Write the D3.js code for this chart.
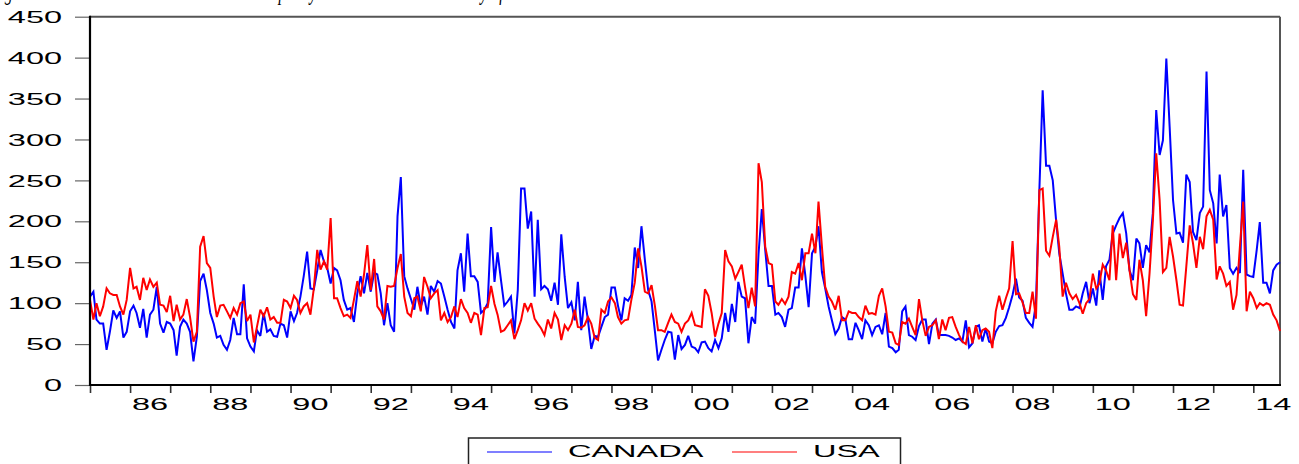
<!DOCTYPE html>
<html><head><meta charset="utf-8">
<script src="https://cdn.jsdelivr.net/npm/d3@7"></script>
<style>body{margin:0;background:#fff}svg{display:block}</style>
</head><body><svg id="c" width="1299" height="464"></svg>
<script>
const startYear = 1985, startMonth = 1;
const canada = [
108,114,80,75,75,43,65,91,82,90,58,65,
90,97,88,70,93,58,86,92,120,75,64,77,
75,67,36,71,80,75,65,29,59,127,136,116,
88,75,58,60,49,43,55,82,62,62,123,57,
47,41,67,60,88,65,68,60,59,75,73,58,
90,78,88,108,133,163,118,117,140,165,151,143,
124,143,140,128,104,92,94,77,112,133,112,137,
114,137,135,112,73,100,73,65,206,254,133,118,
105,92,120,96,108,86,121,114,127,124,108,92,
77,69,140,161,114,185,133,133,126,88,92,100,
193,126,162,128,97,102,108,63,116,240,240,191,
212,108,202,117,121,117,103,125,98,184,132,94,
101,79,126,67,108,79,44,60,59,71,83,86,
119,119,97,79,106,103,110,168,143,194,153,116,
102,65,30,43,55,65,64,31,61,44,49,60,
47,45,40,52,53,45,41,55,45,57,88,65,
99,77,126,108,106,51,83,75,160,215,165,121,
121,86,88,83,71,92,94,119,119,167,134,95,
161,169,194,138,118,96,79,62,69,83,80,56,
56,76,67,56,79,73,61,71,73,62,88,47,
45,40,43,90,96,61,59,55,72,80,80,50,
75,80,61,61,61,60,58,55,57,53,79,46,
51,71,73,53,69,53,51,65,72,73,82,95,
110,130,107,103,82,76,71,100,238,360,268,268,
250,200,161,136,112,92,92,96,94,112,126,100,
118,97,140,104,145,153,185,195,204,210,185,140,
128,179,173,143,171,162,210,336,281,299,399,316,
226,185,186,174,257,248,187,177,210,218,383,238,
222,173,257,206,220,143,136,143,137,263,135,133,
132,165,199,125,125,112,140,147,150];
const usa = [
104,80,100,84,96,118,112,110,110,96,86,104,
143,118,120,104,131,116,129,120,125,98,97,89,
109,78,98,80,86,105,83,53,65,169,182,149,
143,108,83,97,98,90,82,94,86,100,102,78,
86,52,71,92,84,95,80,83,76,76,104,102,
94,109,104,88,96,100,86,118,165,141,151,141,
204,106,106,94,84,86,82,104,127,108,135,171,
116,154,96,90,80,121,120,121,143,160,108,88,
84,106,108,90,132,120,106,112,116,79,88,77,
83,96,83,105,94,88,76,88,86,61,94,95,
121,99,86,65,67,73,79,56,67,79,100,91,
100,81,75,69,61,80,69,88,80,55,73,67,
75,92,71,70,73,83,75,58,55,92,88,102,
107,100,83,75,79,80,104,125,167,145,114,112,
122,96,67,67,65,76,86,77,75,65,75,79,
88,73,72,71,117,109,88,59,75,88,165,151,
145,130,138,147,120,94,119,96,271,248,169,149,
147,102,98,105,99,108,138,136,149,128,161,161,
185,161,224,169,120,108,102,92,109,79,79,90,
88,88,83,79,97,87,88,86,109,118,96,65,
64,51,49,77,75,81,71,61,105,79,60,71,
73,79,56,80,67,82,83,71,61,53,50,71,
51,73,56,67,69,65,45,90,109,92,106,118,
176,111,112,101,88,88,114,81,238,240,164,158,
181,202,169,108,125,112,105,110,100,87,100,105,
136,118,124,147,140,128,195,128,185,155,174,140,
111,104,153,128,84,136,200,283,226,138,143,181,
157,128,98,97,145,195,173,143,181,166,206,214,
202,129,145,136,121,126,92,110,169,224,90,114,
106,94,100,97,100,98,86,79,66];
const yTicks = [0,50,100,150,200,250,300,350,400,450];
const xLabels = ["86","88","90","92","94","96","98","00","02","04","06","08","10","12","14"];
const seriesNames = ["CANADA","USA"];
const seriesColors = ["#0000ff","#ff0000"];
const titleText = "Figure 1: Trends in the news-based economic policy-related market uncertainty of Canada and the USA";

const svg = d3.select("#c");
const L = 90, R = 1280, T = 16.7, B = 385;
const SX = 2.03; // horizontal stretch of the exported fonts
const font = "'Liberation Sans', Arial, sans-serif";

const dates = canada.map((d, i) => new Date(startYear, startMonth - 1 + i, 1));
const x = d3.scaleTime().domain([dates[0], dates[dates.length - 1]]).range([L, R]);
const y = d3.scaleLinear().domain([0, 450]).range([B, T]);

// title: as in the reference, it sits above the picture's top edge and only its descenders show
svg.append("text").attr("transform", "translate(-9,0.3) scale(1,1.6)")
  .attr("font-family", "'Liberation Serif', 'Times New Roman', serif")
  .attr("font-style", "italic").attr("font-size", 15.6).attr("fill", "#000")
  .text(titleText);

// y axis ticks + labels
const yAxis = d3.axisLeft(y).tickValues(yTicks).tickSize(14).tickPadding(0).tickSizeOuter(0);
const gy = svg.append("g").attr("transform", `translate(${L - 1},0)`).call(yAxis);
gy.select(".domain").remove();
gy.selectAll(".tick line").attr("stroke", "#666").attr("stroke-width", 1.2);
gy.selectAll(".tick text")
  .attr("x", 0).attr("dy", null).attr("dominant-baseline", "central")
  .attr("transform", `translate(-27,0) scale(${SX},1)`)
  .attr("text-anchor", "end").attr("font-family", font).attr("font-size", 16).attr("fill", "#000");

// x axis: yearly ticks, labels every two years centred in the year
const yearTicks = d3.timeYear.range(new Date(startYear, 0, 1), new Date(2014, 1, 1));
const xAxis = d3.axisBottom(x).tickValues(yearTicks).tickSize(7).tickFormat("").tickSizeOuter(0);
const gx = svg.append("g").attr("transform", `translate(0,${B + 1})`).call(xAxis);
gx.select(".domain").remove();
gx.selectAll(".tick line").attr("stroke", "#333").attr("stroke-width", 1.6);

svg.append("g").selectAll("text").data(xLabels).join("text")
  .attr("transform", d => {
    const yr = +d < 50 ? 2000 + +d : 1900 + +d;
    return `translate(${x(new Date(yr, 6, 1))},410) scale(${SX},1)`;
  })
  .attr("text-anchor", "middle").attr("font-family", font).attr("font-size", 16).attr("fill", "#000")
  .text(d => d);

// frame
svg.append("line").attr("x1", L).attr("x2", R).attr("y1", T).attr("y2", T).attr("stroke", "#555").attr("stroke-width", 2);
svg.append("line").attr("x1", R).attr("x2", R).attr("y1", T).attr("y2", B).attr("stroke", "#555").attr("stroke-width", 2);

// series
const line = d3.line().x((d, i) => x(dates[i])).y(d => y(d));
[canada, usa].forEach((s, k) => {
  svg.append("path").datum(s).attr("d", line).attr("fill", "none")
    .attr("stroke", seriesColors[k]).attr("stroke-width", 2).attr("stroke-linejoin", "miter").attr("stroke-miterlimit", 3);
});

// axes lines on top
svg.append("line").attr("x1", L).attr("x2", L).attr("y1", T - 1).attr("y2", B + 1).attr("stroke", "#000").attr("stroke-width", 2.2);
svg.append("line").attr("x1", L - 1).attr("x2", R + 1).attr("y1", B).attr("y2", B).attr("stroke", "#000").attr("stroke-width", 2.2);

// legend
const lg = svg.append("g");
lg.append("rect").attr("x", 468.5).attr("y", 438).attr("width", 432).attr("height", 40)
  .attr("fill", "#fff").attr("stroke", "#222").attr("stroke-width", 1.5);
const legendItems = [
  { name: seriesNames[0], color: seriesColors[0], x1: 487, x2: 552, tx: 568 },
  { name: seriesNames[1], color: seriesColors[1], x1: 732, x2: 797, tx: 813 }
];
legendItems.forEach(it => {
  lg.append("line").attr("x1", it.x1).attr("x2", it.x2).attr("y1", 452).attr("y2", 452)
    .attr("stroke", it.color).attr("stroke-width", 1.2);
  lg.append("text").attr("transform", `translate(${it.tx},456.5) scale(${SX},1)`)
    .attr("font-family", font).attr("font-size", 16).attr("fill", "#000").text(it.name);
});
</script></body></html>
